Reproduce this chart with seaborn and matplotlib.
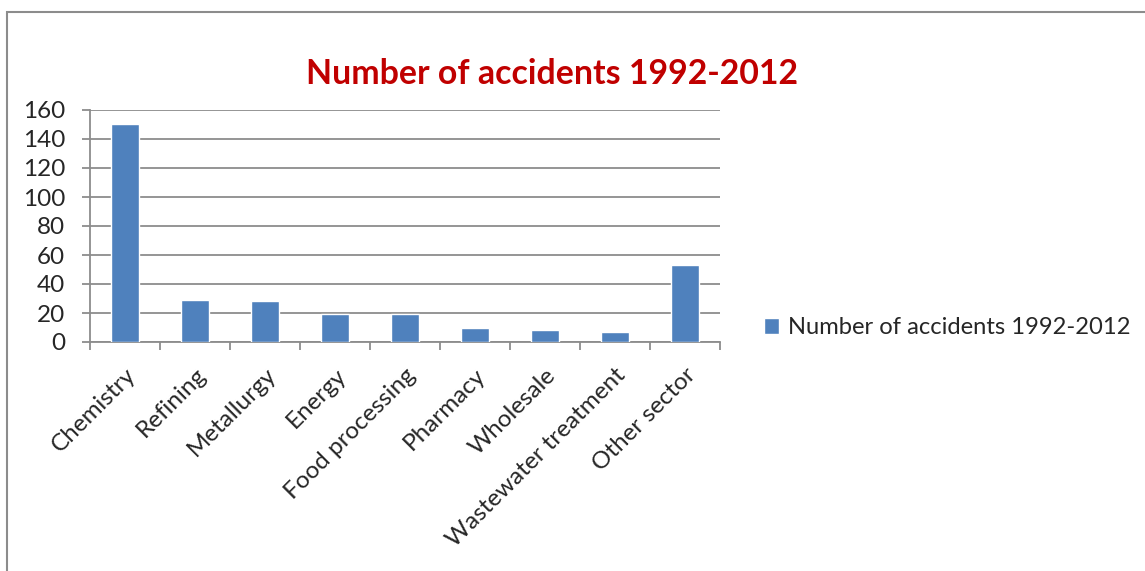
import numpy as np
import pandas as pd
import matplotlib
matplotlib.use("Agg")
import matplotlib.pyplot as plt
from matplotlib.patches import Rectangle
import seaborn as sns

# dane
sectors = ["Chemistry", "Refining", "Metallurgy", "Energy", "Food processing",
           "Pharmacy", "Wholesale", "Wastewater treatment", "Other sector"]
accidents = [150, 29, 28, 19, 19, 10, 8, 7, 53]
series_name = "Number of accidents 1992-2012"
y_ticks = [0, 20, 40, 60, 80, 100, 120, 140, 160]

df = pd.DataFrame({"Sector": sectors, "Accidents": accidents})

sns.set_style("white")
plt.rcParams["font.family"] = ["Lato", "DejaVu Sans"]

W, H = 1145, 571
fig = plt.figure(figsize=(W / 100, H / 100), dpi=100)
ax = fig.add_axes([90 / W, 1 - 342 / H, 630 / W, 232 / H])

# ramka obszaru wykresu
fig.patches.append(Rectangle((6.5 / W, -0.1), 1.2, 1 - 11.5 / H + 0.1,
                             transform=fig.transFigure, fill=False,
                             edgecolor="#8c8c8c", linewidth=1.5))

sns.barplot(data=df, x="Sector", y="Accidents", color="#4F81BD",
            width=0.4, saturation=1, label=series_name, ax=ax, zorder=3)

grid_col = "#8c8c8c"
ax.set_ylim(0, 160)
ax.set_xlim(-0.5, len(sectors) - 0.5)
ax.set_yticks(y_ticks)
ax.yaxis.grid(True, color=grid_col, linewidth=1.3, zorder=0)
ax.set_axisbelow(True)
for s in ["top", "right"]:
    ax.spines[s].set_visible(False)
for s in ["left", "bottom"]:
    ax.spines[s].set_color(grid_col)
    ax.spines[s].set_linewidth(1.3)

ax.tick_params(axis="y", direction="out", length=6, width=1.3, color=grid_col,
               left=True, labelsize=17.5, pad=12)
ax.set_xticks(np.arange(-0.5, len(sectors), 1), minor=True)
ax.tick_params(axis="x", which="minor", direction="out", length=6,
               width=1.3, color=grid_col, bottom=True)
ax.tick_params(axis="x", which="major", length=0, pad=16)
ax.set_xticks(range(len(sectors)))
ax.set_xticklabels(sectors, rotation=45, ha="right", rotation_mode="anchor",
                   fontsize=17.5)
ax.set_xlabel("")
ax.set_ylabel("")

ax.legend(loc="center left", bbox_to_anchor=(764 / W, 1 - 328 / H),
          bbox_transform=fig.transFigure, frameon=False, fontsize=17.1,
          handlelength=0.62, handleheight=0.62, handletextpad=0.4,
          borderpad=0, borderaxespad=0)

fig.text(552 / W, 1 - 84 / H, "Number of accidents 1992-2012",
         ha="center", va="baseline", fontsize=24.4, fontweight="bold",
         color="#C00000")

fig.savefig("out.png", dpi=100)
